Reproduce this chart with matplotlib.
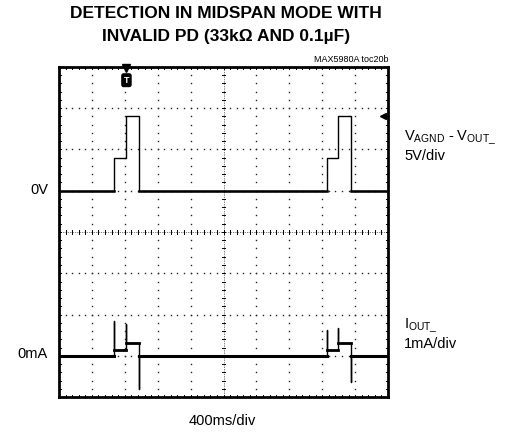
import numpy as np
import matplotlib.pyplot as plt

plt.rcParams['font.family'] = ['Liberation Sans', 'DejaVu Sans']
plt.rcParams['mathtext.fontset'] = 'custom'
plt.rcParams['mathtext.rm'] = 'Liberation Sans'

# scope settings
ms_per_div = 400
v_per_div = 5
ma_per_div = 1
v_zero_div = 5      # 0V level, divisions from bottom
i_zero_div = 1      # 0mA level

# VAGND - VOUT_ trace (ms, V)
t_v = [0, 668, 668, 816, 816, 972, 972, 3260, 3260, 3392, 3392, 3552, 3552, 4000]
v_out = [0, 0, 4.0, 4.0, 9.1, 9.1, 0, 0, 4.0, 4.0, 9.1, 9.1, 0, 0]

# IOUT_ trace (ms, mA), with the switching spikes
t_i = [0, 668, 668, 668, 816, 816, 816, 972, 972, 972,
       3260, 3260, 3260, 3392, 3392, 3392, 3552, 3552, 3552, 4000]
i_out = [0, 0, 0.85, 0.13, 0.13, 0.78, 0.30, 0.30, -0.80, 0,
         0, 0.63, 0.13, 0.13, 0.68, 0.30, 0.30, -0.63, 0, 0]

fig = plt.figure(figsize=(5.11, 4.33), dpi=100)
ax = fig.add_axes([59/511, 1 - 397/433, 329/511, 330/433])
ax.set_xlim(0, 10)
ax.set_ylim(0, 8)
ax.set_xticks([])
ax.set_yticks([])
for s in ax.spines.values():
    s.set_linewidth(2)

# dotted graticule
for gx in range(1, 10):
    if gx == 5:
        continue
    yy = np.arange(0.2, 8, 0.2)
    ax.plot(np.full_like(yy, gx), yy, ls='none', marker='s', ms=1.0, color='#222222', mew=0)
for gy in range(1, 8):
    if gy == 4:
        continue
    xx = np.arange(0.2, 10, 0.2)
    ax.plot(xx, np.full_like(xx, gy), ls='none', marker='s', ms=1.0, color='#222222', mew=0)

# centre axes with minor ticks
ax.plot([5, 5], [0, 8], color='k', lw=0.5, ls=(0, (1, 1.5)))
ax.plot([0, 10], [4, 4], color='k', lw=0.5, ls=(0, (1, 1.5)))
for xx in np.arange(0.2, 10, 0.2):
    ax.plot([xx, xx], [3.96, 4.04], color='k', lw=0.7)
    ax.plot([xx, xx], [0, 0.06], color='k', lw=0.7)
    ax.plot([xx, xx], [7.94, 8], color='k', lw=0.7)
for yy in np.arange(0.2, 8, 0.2):
    ax.plot([4.94, 5.06], [yy, yy], color='k', lw=0.7)
    ax.plot([0, 0.07], [yy, yy], color='k', lw=0.7)
    ax.plot([9.93, 10], [yy, yy], color='k', lw=0.7)

# traces
tv = np.array(t_v) / ms_per_div
yv = v_zero_div + np.array(v_out) / v_per_div
ax.plot(tv, yv, color='k', lw=1.0)
ax.plot([0, tv[1]], [v_zero_div] * 2, color='k', lw=1.8)
ax.plot([tv[6], tv[7]], [v_zero_div] * 2, color='k', lw=1.8)
ax.plot([tv[12], 10], [v_zero_div] * 2, color='k', lw=1.8)

ti = np.array(t_i) / ms_per_div
yi = i_zero_div + np.array(i_out) / ma_per_div
ax.plot(ti, yi, color='k', lw=1.0)
ax.plot([0, ti[1]], [i_zero_div] * 2, color='k', lw=2.2)
ax.plot([ti[9], ti[10]], [i_zero_div] * 2, color='k', lw=2.2)
ax.plot([ti[18], 10], [i_zero_div] * 2, color='k', lw=2.2)
for a, b, lvl in [(1, 4, 0.13), (4, 7, 0.30), (11, 13, 0.13), (14, 16, 0.30)]:
    ax.plot([ti[a], ti[b]], [i_zero_div + lvl] * 2, color='k', lw=2.0)

# trigger and level markers
ax.plot([2.05], [7.97], marker='v', ms=6, color='k', clip_on=False)
ax.text(2.05, 7.68, 'T', ha='center', va='center', fontsize=6.5, color='white',
        fontweight='bold',
        bbox=dict(boxstyle='round,pad=0.2', fc='k', ec='k'))
ax.plot([9.85], [v_zero_div + 9.1 / v_per_div], marker='<', ms=4, color='k')

# labels
fig.text(226/511, 1 - 14/433, 'DETECTION IN MIDSPAN MODE WITH', ha='center', va='center',
         fontsize=12.5, fontweight='bold')
fig.text(226/511, 1 - 37/433, 'INVALID PD (33k\u03a9 AND 0.1\u00b5F)', ha='center', va='center',
         fontsize=12.5, fontweight='bold')
fig.text(388/511, 1 - 60/433, 'MAX5980A toc20b', ha='right', va='center', fontsize=6.5)
fig.text(48/511, 1 - 190/433, '0V', ha='right', va='center', fontsize=10.5)
fig.text(48/511, 1 - 354/433, '0mA', ha='right', va='center', fontsize=10.5)
fig.text(404/511, 1 - 138/433, r'V$_{\mathregular{AGND}}$ - V$_{\mathregular{OUT\_}}$',
         ha='left', va='center', fontsize=10.5)
fig.text(404/511, 1 - 156/433, '5V/div', ha='left', va='center', fontsize=10.5)
fig.text(404/511, 1 - 326/433, r'I$_{\mathregular{OUT\_}}$', ha='left', va='center',
         fontsize=10.5)
fig.text(404/511, 1 - 344/433, '1mA/div', ha='left', va='center', fontsize=10.5)
fig.text(222/511, 1 - 421/433, '400ms/div', ha='center', va='center', fontsize=10.5)

fig.savefig('out.png', dpi=100)
